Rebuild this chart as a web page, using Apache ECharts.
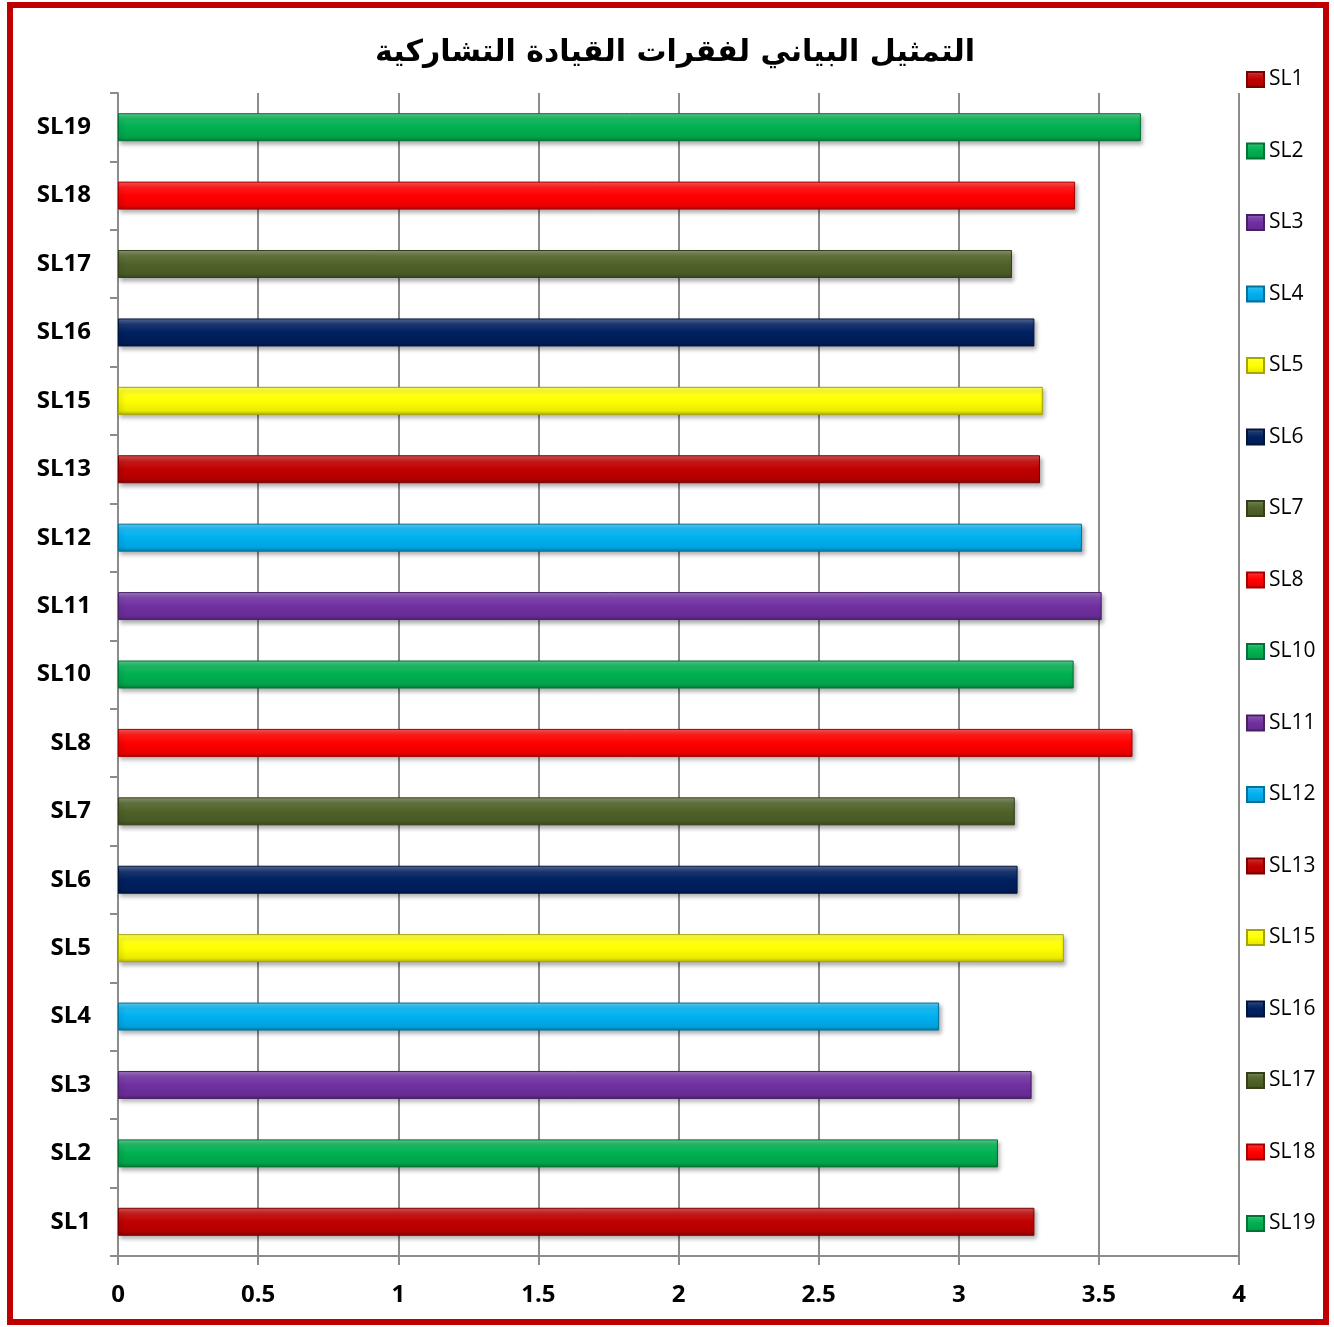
<!DOCTYPE html>
<html>
<head>
<meta charset="utf-8">
<script src="https://cdn.jsdelivr.net/npm/echarts@6/dist/echarts.min.js"></script>
<style>
html,body{margin:0;padding:0;background:#fff;}
#main{width:1334px;height:1327px;}
</style>
</head>
<body>
<div id="main"></div>
<script>
// categories from bottom to top
var items = ['SL1','SL2','SL3','SL4','SL5','SL6','SL7','SL8','SL10','SL11','SL12','SL13','SL15','SL16','SL17','SL18','SL19'];
var values = [3.27, 3.14, 3.26, 2.93, 3.375, 3.21, 3.20, 3.62, 3.41, 3.51, 3.44, 3.29, 3.30, 3.27, 3.19, 3.415, 3.65];
var colors = ['#C00000','#00B050','#7030A0','#00B0F0','#FFFF00','#002060','#4F6228','#FF0000',
              '#00B050','#7030A0','#00B0F0','#C00000','#FFFF00','#002060','#4F6228','#FF0000','#00B050'];
var xTicks = [0, 0.5, 1, 1.5, 2, 2.5, 3, 3.5, 4];
var title = 'التمثيل البياني لفقرات القيادة التشاركية';

// lighten / darken a hex colour
function shade(hex, amt){
    var r = parseInt(hex.substr(1,2),16), g = parseInt(hex.substr(3,2),16), b = parseInt(hex.substr(5,2),16);
    function f(c){
        if(amt>0) c = c + (255-c)*amt; else c = c*(1+amt);
        return Math.max(0,Math.min(255,Math.round(c)));
    }
    return 'rgb('+f(r)+','+f(g)+','+f(b)+')';
}

var series = [];
for(var i=0;i<items.length;i++){
    var d = [];
    for(var j=0;j<items.length;j++){
        d.push(j==i ? values[i] : '-');
    }
    var c = colors[i];
    series.push({
        name: items[i],
        type: 'bar',
        stack: 'all',
        barWidth: 28,
        data: d,
        itemStyle: {
            color: new echarts.graphic.LinearGradient(0,0,0,1,[
                {offset:0, color: shade(c,0.35)},
                {offset:0.22, color: shade(c,0.1)},
                {offset:0.5, color: c},
                {offset:0.85, color: shade(c,-0.08)},
                {offset:1, color: shade(c,-0.3)}
            ]),
            borderColor: shade(c,-0.35),
            borderWidth: 1,
            shadowColor: 'rgba(0,0,0,0.3)',
            shadowBlur: 4,
            shadowOffsetX: 2,
            shadowOffsetY: 3
        }
    });
}

var myChart = echarts.init(document.getElementById('main'));
myChart.setOption({
    backgroundColor: '#fff',
    animation: false,
    title: {
        text: title,
        left: 670,
        top: 33,
        textAlign: 'center',
        textStyle: {fontFamily: 'DejaVu Sans', fontWeight: 'bold', fontSize: 30, color: '#000'}
    },
    graphic: [{
        type: 'rect',
        shape: {x: 10, y: 5, width: 1316, height: 1317},
        style: {fill: 'none', stroke: '#C00000', lineWidth: 6},
        silent: true
    }],
    legend: {
        orient: 'vertical',
        left: 1246,
        top: 69,
        padding: 0,
        itemWidth: 17,
        itemHeight: 15,
        itemGap: 50.5,
        icon: 'rect',
        data: items,
        textStyle: {fontFamily: 'Open Sans', fontSize: 21, color: '#000'}
    },
    grid: {left: 118, right: 95, top: 93, bottom: 71},
    xAxis: {
        type: 'value',
        min: 0, max: 4, interval: 0.5,
        axisLine: {show: true, lineStyle: {color: '#8c8c8c', width: 2}},
        axisTick: {show: true, length: 9, lineStyle: {color: '#8c8c8c', width: 2}},
        splitLine: {show: true, lineStyle: {color: '#8c8c8c', width: 2}},
        axisLabel: {
            margin: 27,
            fontFamily: 'Open Sans', fontWeight: 'bold', fontSize: 24, color: '#000',
            formatter: function(v){ return xTicks.indexOf(v) >= 0 ? String(v) : ''; }
        }
    },
    yAxis: {
        type: 'category',
        data: items,
        axisLine: {show: true, lineStyle: {color: '#8c8c8c', width: 2}},
        axisTick: {show: true, length: 8, lineStyle: {color: '#8c8c8c', width: 2}},
        axisLabel: {margin: 27, fontFamily: 'Open Sans', fontWeight: 'bold', fontSize: 24, color: '#000'}
    },
    series: series
});
</script>
</body>
</html>
